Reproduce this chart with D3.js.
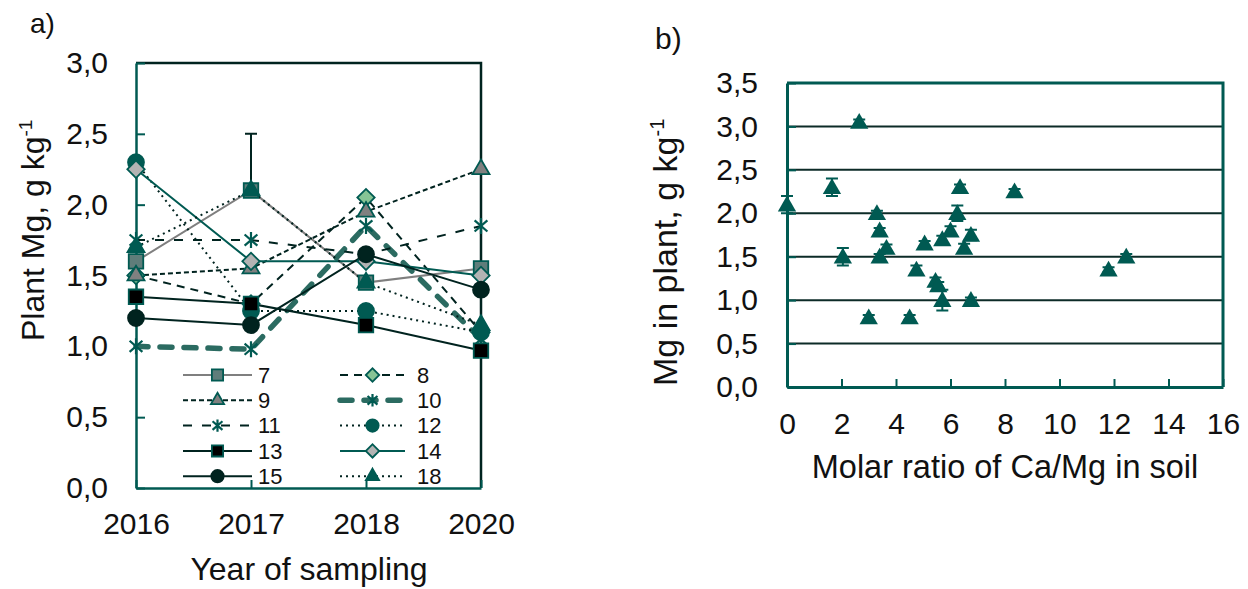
<!DOCTYPE html>
<html>
<head>
<meta charset="utf-8">
<script src="https://cdn.jsdelivr.net/npm/d3@7"></script>
<style>
  body { margin: 0; background: #fff; }
  svg text { font-family: "Liberation Sans", Arial, sans-serif; fill: #111; }
</style>
</head>
<body>
<svg id="chart" width="1248" height="589"></svg>
<script>
// ---- panel a) plant Mg by year, per site ----
const years = ['2016', '2017', '2018', '2020'];
const s7  = [1.6, 2.1, 1.45, 1.55];
const s8  = [1.5, 1.3, 2.05, 1.1];
const s9  = [1.5, 1.55, 1.95, 2.25];
const s10 = [1.0, 0.98, 1.85, 1.05];
const s11 = [1.75, 1.75, 1.65, 1.85];
const s12 = [2.3, 1.25, 1.25, 1.1];
const s13 = [1.35, 1.3, 1.15, 0.97];
const s14 = [2.25, 1.6, 1.6, 1.5];
const s15 = [1.2, 1.15, 1.65, 1.4];
const s18 = [1.7, 2.1, 1.45, 1.15];
const s7ErrUp = [0, 0.4, 0, 0];
const yTicksA = [0, 0.5, 1, 1.5, 2, 2.5, 3];

// ---- panel b) Mg in plant vs Ca/Mg ratio ----
const caMgRatio = [0, 1.65, 2.05, 2.65, 3.0, 3.3, 3.4, 3.4, 3.65, 4.5, 4.75, 5.05, 5.45, 5.55, 5.7, 5.7, 6.0, 6.25, 6.35, 6.5, 6.75, 6.75, 8.35, 11.8, 12.45];
const mgPlant   = [2.1, 2.3, 1.5, 3.05, 0.8, 2.0, 1.8, 1.5, 1.6, 0.8, 1.35, 1.65, 1.22, 1.17, 1.0, 1.7, 1.8, 2.0, 2.3, 1.6, 1.75, 1.0, 2.25, 1.35, 1.5];
const mgErr     = [0.1, 0.1, 0.1, 0.03, 0.03, 0.03, 0.03, 0.03, 0.04, 0.03, 0.05, 0.03, 0.04, 0.04, 0.12, 0.04, 0.05, 0.09, 0.03, 0.05, 0.06, 0.03, 0.03, 0.03, 0.03];
const yTicksB = [0, 0.5, 1, 1.5, 2, 2.5, 3, 3.5];
const xTicksB = [0, 2, 4, 6, 8, 10, 12, 14, 16];

const TEAL = '#005a52';
const DARK = '#00231f';

const series = [
  { name: '7',  values: s7,  color: '#7f7f7f', width: 2,   dash: null,    marker: 'square',   fill: '#5f7d7a' },
  { name: '8',  values: s8,  color: DARK,      width: 2,   dash: '8,6',   marker: 'diamond',  fill: '#86c495' },
  { name: '9',  values: s9,  color: DARK,      width: 2,   dash: '5,3',   marker: 'triangle', fill: '#808080' },
  { name: '10', values: s10, color: '#2b6b61', width: 5.5, dash: '12,12', marker: 'star',     fill: 'none', cap: 'round' },
  { name: '11', values: s11, color: DARK,      width: 2,   dash: '9,10',  marker: 'star',     fill: 'none' },
  { name: '12', values: s12, color: DARK,      width: 2,   dash: '2,4',   marker: 'circle',   fill: TEAL },
  { name: '13', values: s13, color: DARK,      width: 2,   dash: null,    marker: 'square',   fill: '#000' },
  { name: '14', values: s14, color: TEAL,      width: 2,   dash: null,    marker: 'diamond',  fill: '#b3b3b3' },
  { name: '15', values: s15, color: DARK,      width: 2,   dash: null,    marker: 'circle',   fill: DARK },
  { name: '18', values: s18, color: DARK,      width: 2,   dash: '2,4',   marker: 'triangle', fill: TEAL }
];

const fmt = d => d3.format('.1f')(d).replace('.', ',');

// excel-like asterisk: vertical bar plus an x
const starType = {
  draw(ctx, size) {
    const r = Math.sqrt(size) / 2;
    ctx.moveTo(0, -r); ctx.lineTo(0, r);
    ctx.moveTo(-r * 0.8, -r * 0.7); ctx.lineTo(r * 0.8, r * 0.7);
    ctx.moveTo(-r * 0.8, r * 0.7); ctx.lineTo(r * 0.8, -r * 0.7);
  }
};

function drawMarker(g, type, cx, cy, scale, fill) {
  let path, rot = 0;
  if (type === 'square') path = d3.symbol(d3.symbolSquare, 210 * scale);
  else if (type === 'diamond') { path = d3.symbol(d3.symbolSquare, 150 * scale); rot = 45; }
  else if (type === 'triangle') path = d3.symbol(d3.symbolTriangle, 125 * scale);
  else if (type === 'circle') path = d3.symbol(d3.symbolCircle, 200 * scale);
  else path = d3.symbol(starType, 256 * scale);
  g.append('path')
    .attr('d', path())
    .attr('transform', `translate(${cx},${cy}) rotate(${rot})`)
    .attr('fill', type === 'star' ? 'none' : fill)
    .attr('stroke', type === 'circle' && fill === DARK ? DARK : TEAL)
    .attr('stroke-width', type === 'star' ? 2.2 : 1.8);
}

const svg = d3.select('#chart');

// ================= panel a =================
const xA = d3.scalePoint().domain(years).range([136, 481]);
const yA = d3.scaleLinear().domain([0, 3]).range([488, 63]);
const gA = svg.append('g');

// frame top/right
gA.append('path')
  .attr('d', `M${xA.range()[0]},${yA(3)}H${xA.range()[1]}V${yA(0)}`)
  .attr('fill', 'none').attr('stroke', DARK).attr('stroke-width', 2.5);

const axA_x = gA.append('g').attr('transform', `translate(0,${yA(0)})`)
  .call(d3.axisBottom(xA).tickSizeInner(-8).tickSizeOuter(0).tickPadding(25));
const axA_y = gA.append('g').attr('transform', `translate(${xA.range()[0]},0)`)
  .call(d3.axisLeft(yA).tickValues(yTicksA).tickFormat(fmt).tickSizeInner(-9).tickSizeOuter(0).tickPadding(28));
[axA_x, axA_y].forEach(ax => {
  ax.select('.domain').attr('stroke', TEAL).attr('stroke-width', 2.5);
  ax.selectAll('.tick line').attr('stroke', TEAL).attr('stroke-width', 2);
  ax.selectAll('.tick text').attr('font-size', 30).attr('fill', '#111');
});

// lines
const lineA = d3.line().x((d, i) => xA(years[i])).y(d => yA(d));
series.forEach(s => {
  gA.append('path')
    .attr('d', lineA(s.values))
    .attr('fill', 'none')
    .attr('stroke', s.color)
    .attr('stroke-width', s.width)
    .attr('stroke-dasharray', s.dash)
    .attr('stroke-linecap', s.cap || 'butt');
});

// error bar (site 7, 2017)
s7.forEach((v, i) => {
  if (!s7ErrUp[i]) return;
  const x = xA(years[i]);
  gA.append('path')
    .attr('d', `M${x},${yA(v)}V${yA(v + s7ErrUp[i])}M${x - 6},${yA(v + s7ErrUp[i])}H${x + 6}`)
    .attr('stroke', DARK).attr('stroke-width', 2).attr('fill', 'none');
});

// markers
series.forEach(s => {
  s.values.forEach((v, i) => drawMarker(gA, s.marker, xA(years[i]), yA(v), 1, s.fill));
});

// legend
const legRowY = 375, legRowH = 25.3;
const legCols = [{ x0: 183, x1: 252, tx: 258 }, { x0: 340, x1: 405, tx: 417 }];
series.forEach((s, i) => {
  const col = legCols[i % 2];
  const y = legRowY + Math.floor(i / 2) * legRowH;
  const lg = gA.append('g');
  lg.append('line')
    .attr('x1', col.x0).attr('x2', col.x1).attr('y1', y).attr('y2', y)
    .attr('stroke', s.color).attr('stroke-width', s.width)
    .attr('stroke-dasharray', s.dash).attr('stroke-linecap', s.cap || 'butt');
  drawMarker(lg, s.marker, (col.x0 + col.x1) / 2, y, 0.6, s.fill);
  lg.append('text').attr('x', col.tx).attr('y', y).attr('dy', '0.35em')
    .attr('font-size', 22).text(s.name);
});

// titles
gA.append('text').attr('x', 30).attr('y', 33).attr('font-size', 28).text('a)');
gA.append('text').attr('x', 309).attr('y', 580).attr('text-anchor', 'middle')
  .attr('font-size', 32).text('Year of sampling');
const tA = gA.append('text').attr('transform', 'translate(44,341) rotate(-90)').attr('font-size', 32);
tA.append('tspan').text('Plant Mg, g kg');
tA.append('tspan').attr('dy', -12).attr('font-size', 19).text('-1');

// ================= panel b =================
const xB = d3.scaleLinear().domain([0, 16]).range([787, 1223]);
const yB = d3.scaleLinear().domain([0, 3.5]).range([387, 83]);
const gB = svg.append('g');

// grid
gB.selectAll('line.grid').data(yTicksB.filter(v => v > 0 && v < 3.5)).enter()
  .append('line').attr('class', 'grid')
  .attr('x1', xB(0)).attr('x2', xB(16)).attr('y1', d => yB(d)).attr('y2', d => yB(d))
  .attr('stroke', '#0c2b27').attr('stroke-width', 2);

gB.append('path')
  .attr('d', `M${xB(0)},${yB(3.5)}H${xB(16)}V${yB(0)}`)
  .attr('fill', 'none').attr('stroke', TEAL).attr('stroke-width', 3);

const axB_x = gB.append('g').attr('transform', `translate(0,${yB(0)})`)
  .call(d3.axisBottom(xB).tickValues(xTicksB).tickFormat(d3.format('d')).tickSizeInner(-8).tickSizeOuter(0).tickPadding(26));
const axB_y = gB.append('g').attr('transform', `translate(${xB(0)},0)`)
  .call(d3.axisLeft(yB).tickValues(yTicksB).tickFormat(fmt).tickSizeInner(-9).tickSizeOuter(0).tickPadding(29));
[axB_x, axB_y].forEach(ax => {
  ax.select('.domain').attr('stroke', TEAL).attr('stroke-width', 3);
  ax.selectAll('.tick line').attr('stroke', TEAL).attr('stroke-width', 2);
  ax.selectAll('.tick text').attr('font-size', 30).attr('fill', '#111');
});

// error bars then triangles
caMgRatio.forEach((r, i) => {
  const x = xB(r), e = mgErr[i], v = mgPlant[i];
  gB.append('path')
    .attr('d', `M${x},${yB(v - e)}V${yB(v + e)}M${x - 6},${yB(v + e)}H${x + 6}M${x - 6},${yB(v - e)}H${x + 6}`)
    .attr('stroke', TEAL).attr('stroke-width', 2).attr('fill', 'none');
});
gB.selectAll('path.pt').data(caMgRatio).enter()
  .append('path').attr('class', 'pt')
  .attr('d', d3.symbol(d3.symbolTriangle, 145)())
  .attr('transform', (d, i) => `translate(${xB(d)},${yB(mgPlant[i]) + 1.5})`)
  .attr('fill', TEAL);

gB.append('text').attr('x', 655).attr('y', 49).attr('font-size', 30).text('b)');
gB.append('text').attr('x', 1005).attr('y', 478).attr('text-anchor', 'middle')
  .attr('font-size', 32.5).text('Molar ratio of Ca/Mg in soil');
const tB = gB.append('text').attr('transform', 'translate(677,386) rotate(-90)').attr('font-size', 34);
tB.append('tspan').text('Mg in plant, g kg');
tB.append('tspan').attr('dy', -13).attr('font-size', 20).text('-1');
</script>
</body>
</html>
